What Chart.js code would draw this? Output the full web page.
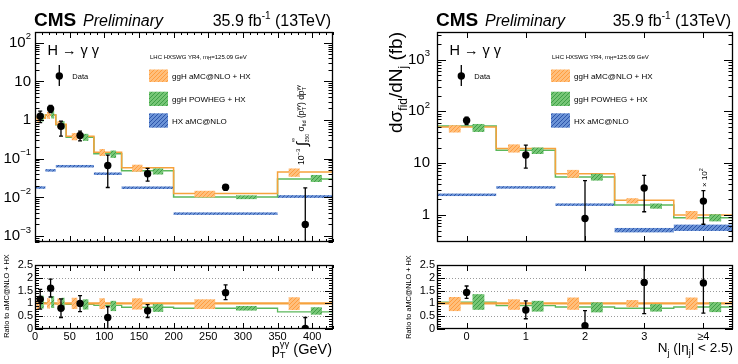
<!DOCTYPE html>
<html>
<head>
<meta charset="utf-8">
<script src="https://cdn.jsdelivr.net/npm/chart.js@4.4.1/dist/chart.umd.min.js"></script>
<style>
  body { margin: 0; background: #fff; }
  #page { position: relative; width: 738px; height: 364px; overflow: hidden; background: #fff; }
  #page canvas { position: absolute; }
</style>
</head>
<body>
<div id="page">
  <canvas id="ptMain" width="370" height="250" style="left:0;top:0"></canvas>
  <canvas id="ptRatio" width="370" height="114" style="left:0;top:250px"></canvas>
  <canvas id="njMain" width="368" height="250" style="left:370px;top:0"></canvas>
  <canvas id="njRatio" width="368" height="114" style="left:370px;top:250px"></canvas>
</div>
<script>
// ---- pT(gg) distribution ----
const ptEdges = [0, 15, 30, 45, 85, 125, 200, 350, 430];
const ptTicks = [0, 50, 100, 150, 200, 250, 300, 350, 400];
const ptYTicks = [1e2, 10, 1, 1e-1, 1e-2, 1e-3];
const ptData     = [1.25, 1.96, 0.69, 0.40, 0.067, 0.041, 0.0183, 0.0020];
const ptDataUp   = [1.70, 2.40, 0.94, 0.52, 0.124, 0.056, 0.0210, 0.0177];
const ptDataDown = [0.86, 1.55, 0.385, 0.29, 0.018, 0.0263, 0.0151, 0.0001];
const ptAmc      = [1.12, 1.35, 0.78, 0.38, 0.148, 0.058, 0.0125, 0.045];
const ptAmcLo    = [0.90, 1.08, 0.62, 0.30, 0.118, 0.046, 0.0100, 0.034];
const ptAmcHi    = [1.36, 1.62, 0.94, 0.46, 0.178, 0.070, 0.0148, 0.056];
const ptPowheg   = [1.14, 1.35, 0.76, 0.36, 0.135, 0.049, 0.0102, 0.030];
const ptPowhegLo = [0.92, 1.10, 0.58, 0.29, 0.105, 0.039, 0.0090, 0.025];
const ptPowhegHi = [1.45, 1.72, 0.94, 0.44, 0.163, 0.056, 0.0113, 0.038];
const ptHxLo     = [0.0170, 0.047, 0.061, 0.061, 0.039, 0.0170, 0.0036, 0.0097];
const ptHxHi     = [0.0190, 0.053, 0.067, 0.067, 0.043, 0.0186, 0.0040, 0.0114];
const ptRatioData   = [1.16, 1.59, 0.81, 1.00, 0.45, 0.71, 1.42, 0.02];
const ptRatioUp     = [1.55, 1.95, 1.18, 1.30, 0.87, 0.95, 1.72, 0.45];
const ptRatioDown   = [0.78, 1.25, 0.45, 0.68, 0.00, 0.45, 1.15, 0.00];
const ptRatioAmcLo  = [0.78, 0.80, 0.80, 0.78, 0.78, 0.76, 0.78, 0.74];
const ptRatioAmcHi  = [1.22, 1.20, 1.20, 1.22, 1.20, 1.20, 1.16, 1.24];
const ptRatioPowheg   = [1.02, 1.00, 0.98, 0.96, 0.92, 0.85, 0.81, 0.67];
const ptRatioPowhegLo = [0.80, 0.82, 0.75, 0.76, 0.70, 0.67, 0.72, 0.56];
const ptRatioPowhegHi = [1.30, 1.28, 1.22, 1.16, 1.10, 0.97, 0.90, 0.85];

// ---- jet multiplicity ----
const njLabels = ['0', '1', '2', '3', '\u22654'];
const njEdges = [-0.5, 0.5, 1.5, 2.5, 3.5, 4.5];
const njTicks = [0, 1, 2, 3, 4];
const njYTicks = [1e3, 1e2, 10, 1];
const njData     = [66.7, 14.3, 0.85, 3.3, 1.85];
const njDataUp   = [77.6, 22.2, 4.6, 5.8, 2.95];
const njDataDown = [55.5, 8.0, 0.1, 1.15, 0.66];
const njAmc      = [50, 19.2, 6.2, 1.93, 1.0];
const njAmcLo    = [39, 16, 5.2, 1.66, 0.82];
const njAmcHi    = [54, 23, 7.4, 2.1, 1.19];
const njPowheg   = [52, 17.8, 5.4, 1.55, 0.88];
const njPowhegLo = [40, 15, 4.6, 1.32, 0.75];
const njPowhegHi = [57, 20, 6.2, 1.66, 1.03];
const njHxLo     = [2.32, 3.25, 1.50, 0.46, 0.49];
const njHxHi     = [2.58, 3.55, 1.66, 0.56, 0.65];
const njRatioData   = [1.43, 0.74, 0.13, 1.82, 1.80];
const njRatioUp     = [1.68, 1.10, 0.72, 3.0, 3.0];
const njRatioDown   = [1.20, 0.40, 0.00, 0.60, 0.62];
const njRatioAmcLo  = [0.70, 0.75, 0.75, 0.85, 0.75];
const njRatioAmcHi  = [1.25, 1.16, 1.23, 1.13, 1.23];
const njRatioPowheg   = [1.05, 0.91, 0.86, 0.81, 0.86];
const njRatioPowhegLo = [0.75, 0.68, 0.65, 0.68, 0.66];
const njRatioPowhegHi = [1.36, 1.10, 1.04, 0.97, 1.05];

const ratioTicks = [0, 0.5, 1, 1.5, 2, 2.5];
const ratioGrid = [0.5, 1, 1.5, 2];
const seriesNames = ['Data', 'ggH aMC@NLO + HX', 'ggH POWHEG + HX', 'HX aMC@NLO'];

const FAMILY = '"Liberation Sans", Arial, Helvetica, sans-serif';
const ORANGE = '#f6a23c';
const GREEN = '#5cb85c';
const BOX_SHIFT = 0.2, BOX_HALF = 0.1;

const R = (t, s, dy, st, keep) => ({ t: t, s: s, dy: dy || 0, st: st || '', keep: !!keep });

// draw a run of text pieces (sub/superscripts), optionally rotated
function rich(ctx, x, y, runs, opt) {
  opt = opt || {};
  ctx.save();
  ctx.translate(x, y);
  if (opt.rot) ctx.rotate(opt.rot);
  ctx.textBaseline = opt.baseline || 'alphabetic';
  ctx.textAlign = 'left';
  ctx.fillStyle = '#000';
  let w = 0;
  runs.forEach(r => {
    ctx.font = r.st + ' ' + r.s + 'px ' + FAMILY;
    if (!r.keep) w += ctx.measureText(r.t).width;
  });
  let cx = opt.align === 'right' ? -w : opt.align === 'center' ? -w / 2 : 0;
  runs.forEach(r => {
    ctx.font = r.st + ' ' + r.s + 'px ' + FAMILY;
    ctx.fillText(r.t, cx, r.dy);
    if (!r.keep) cx += ctx.measureText(r.t).width;
  });
  ctx.restore();
}

function hatch(ctx, bg, fg) {
  const t = document.createElement('canvas');
  t.width = 4; t.height = 4;
  const g = t.getContext('2d');
  g.fillStyle = bg; g.fillRect(0, 0, 4, 4);
  g.strokeStyle = fg; g.lineWidth = 1;
  g.beginPath();
  g.moveTo(0, 4); g.lineTo(4, 0);
  g.moveTo(-1, 1); g.lineTo(1, -1);
  g.moveTo(3, 5); g.lineTo(5, 3);
  g.stroke();
  return ctx.createPattern(t, 'repeat');
}

function pats(ctx) {
  if (!ctx._pats) {
    ctx._pats = {
      amc: hatch(ctx, '#ffbf7c', '#ff9d3f'),
      pow: hatch(ctx, '#76c676', '#3f9f47'),
      hx: hatch(ctx, '#6a92d6', '#2d55aa')
    };
  }
  return ctx._pats;
}

function stepPoints(edges, vals) {
  return edges.map((e, i) => ({ x: e, y: vals[Math.min(i, vals.length - 1)] }));
}
function centers(edges) {
  return edges.slice(1).map((e, i) => (edges[i] + e) / 2);
}

function drawBoxes(chart, c, lo, hi, side, pat) {
  const { ctx, scales: { x, y } } = chart;
  ctx.fillStyle = pat;
  for (let i = 0; i < lo.length; i++) {
    const w = c.edges[i + 1] - c.edges[i];
    const mid = (c.edges[i] + c.edges[i + 1]) / 2 + side * BOX_SHIFT * w;
    let x0 = x.getPixelForValue(mid - BOX_HALF * w), x1 = x.getPixelForValue(mid + BOX_HALF * w);
    if (x1 - x0 < 3) { const m = (x0 + x1) / 2; x0 = m - 1.5; x1 = m + 1.5; }
    const y0 = y.getPixelForValue(hi[i]), y1 = y.getPixelForValue(lo[i]);
    ctx.fillRect(x0, y0, x1 - x0, Math.max(y1 - y0, 2));
  }
}

function drawBands(chart, c, lo, hi, pat) {
  const { ctx, scales: { x, y } } = chart;
  ctx.fillStyle = pat;
  for (let i = 0; i < lo.length; i++) {
    const x0 = x.getPixelForValue(c.edges[i]), x1 = x.getPixelForValue(c.edges[i + 1]);
    const y0 = y.getPixelForValue(hi[i]), y1 = y.getPixelForValue(lo[i]);
    const h = Math.max(y1 - y0, 2.5);
    ctx.fillRect(x0, (y0 + y1) / 2 - h / 2, x1 - x0, h);
  }
}

function errorBars(chart, c) {
  const { ctx, scales: { x, y } } = chart;
  ctx.strokeStyle = '#000'; ctx.lineWidth = 1.3;
  ctx.beginPath();
  centers(c.edges).forEach((cx, i) => {
    const px = x.getPixelForValue(cx);
    const yu = y.getPixelForValue(c.up[i]), yd = y.getPixelForValue(c.down[i]);
    ctx.moveTo(px, yu); ctx.lineTo(px, yd);
    ctx.moveTo(px - 2, yu); ctx.lineTo(px + 2, yu);
    ctx.moveTo(px - 2, yd); ctx.lineTo(px + 2, yd);
  });
  ctx.stroke();
}

function frameTicks(chart, c) {
  const { ctx, chartArea: a, scales: { x, y } } = chart;
  ctx.save();
  ctx.strokeStyle = '#000';
  ctx.lineWidth = 1;
  ctx.beginPath();
  const vt = (v, len) => {
    const p = Math.round(y.getPixelForValue(v)) + 0.5;
    ctx.moveTo(a.left, p); ctx.lineTo(a.left + len, p);
    ctx.moveTo(a.right, p); ctx.lineTo(a.right - len, p);
  };
  const ht = (v, len) => {
    const p = Math.round(x.getPixelForValue(v)) + 0.5;
    ctx.moveTo(p, a.bottom); ctx.lineTo(p, a.bottom - len);
    ctx.moveTo(p, a.top); ctx.lineTo(p, a.top + len);
  };
  if (c.logY) {
    for (let d = Math.floor(Math.log10(c.yMin)); d <= Math.ceil(Math.log10(c.yMax)); d++) {
      for (let m = 1; m < 10; m++) {
        const v = m * Math.pow(10, d);
        if (v >= c.yMin && v <= c.yMax) vt(v, m === 1 ? 9 : 4.5);
      }
    }
  } else {
    for (let k = 0; k <= 25; k++) vt(k / 10, k % 5 === 0 ? 8 : 4);
  }
  c.xTicks.forEach(v => ht(v, 6));
  if (c.xMinor) {
    for (let v = c.xMin; v <= c.xMax; v += c.xMinor) {
      if (!c.xTicks.includes(v)) ht(v, 3);
    }
  }
  ctx.stroke();
  ctx.lineWidth = 1.3;
  ctx.strokeRect(a.left + 0.5, a.top + 0.5, a.right - a.left - 1, a.bottom - a.top - 1);
  ctx.restore();
}

function panelPlugin(c) {
  return {
    id: 'panel_' + c.id,
    beforeDatasetsDraw(chart) {
      const { ctx, chartArea: a, scales: { y } } = chart;
      const p = pats(ctx);
      ctx.save();
      ctx.beginPath(); ctx.rect(a.left, a.top, a.right - a.left, a.bottom - a.top); ctx.clip();
      if (c.grid) {
        ctx.strokeStyle = '#9a9a9a'; ctx.lineWidth = 1; ctx.setLineDash([1, 2]);
        ctx.beginPath();
        c.grid.forEach(v => {
          const py = Math.round(y.getPixelForValue(v)) + 0.5;
          ctx.moveTo(a.left, py); ctx.lineTo(a.right, py);
        });
        ctx.stroke();
        ctx.setLineDash([]);
      }
      if (c.hxLo) drawBands(chart, c, c.hxLo, c.hxHi, p.hx);
      ctx.restore();
    },
    // lines are drawn first; boxes and error bars go on top of them, markers last
    beforeDatasetDraw(chart, args) {
      if (args.index !== 0) return;
      const { ctx, chartArea: a } = chart;
      const p = pats(ctx);
      ctx.save();
      ctx.beginPath(); ctx.rect(a.left, a.top, a.right - a.left, a.bottom - a.top); ctx.clip();
      drawBoxes(chart, c, c.amcLo, c.amcHi, -1, p.amc);
      drawBoxes(chart, c, c.powLo, c.powHi, 1, p.pow);
      errorBars(chart, c);
      ctx.restore();
    },
    afterDraw(chart) {
      frameTicks(chart, c);
      if (c.yLabels) {
        const { ctx, chartArea: a, scales: { y } } = chart;
        c.yLabels.forEach(v => {
          const e = Math.round(Math.log10(v));
          const runs = e === 0 ? [R('1', 15)] : e === 1 ? [R('10', 15)]
            : [R('10', 15), R(String(e).replace('-', '\u2212'), 9.5, -6)];
          rich(ctx, a.left - c.labelGap, y.getPixelForValue(v), runs, { align: 'right', baseline: 'middle' });
        });
      }
      if (c.decorate) c.decorate(chart);
    }
  };
}

function mainDecor(chart) {
  const { ctx, chartArea: a } = chart;
  const p = pats(ctx);
  rich(ctx, a.left - 1, 25.5, [R('CMS', 19, 0, 'bold')]);
  rich(ctx, a.left + 48, 25.5, [R('Preliminary', 16, 0, 'italic')]);
  rich(ctx, a.right - 2, 25.5, [R('35.9 fb', 16), R('-1', 10, -7), R(' (13TeV)', 16)], { align: 'right' });
  rich(ctx, a.left + 12.5, 55, [R('H \u2192 \u03b3 \u03b3', 14.5)]);
  rich(ctx, a.left + 115, 58.5, [R('LHC HXSWG YR4, m', 6), R('H', 4.5, 1.5), R('=125.09 GeV', 6)]);
  const lx = a.left + 114;
  [[69.5, 82, p.amc, 1], [91.7, 106, p.pow, 2], [113.3, 127.7, p.hx, 3]].forEach(e => {
    ctx.fillStyle = e[2];
    ctx.fillRect(lx, e[0], 19, e[1] - e[0]);
    rich(ctx, lx + 23, (e[0] + e[1]) / 2 + 3, [R(seriesNames[e[3]], 8)]);
  });
  const dx = a.left + 24.3;
  ctx.save();
  ctx.strokeStyle = '#000'; ctx.lineWidth = 1.3;
  ctx.beginPath(); ctx.moveTo(dx, 65); ctx.lineTo(dx, 86); ctx.stroke();
  ctx.fillStyle = '#000';
  ctx.beginPath(); ctx.arc(dx, 76, 3.7, 0, Math.PI * 2); ctx.fill();
  ctx.restore();
  rich(ctx, dx + 13, 79, [R(seriesNames[0], 7.5)]);
}

function mainChart(c) {
  new Chart(document.getElementById(c.id), {
    type: 'scatter',
    data: {
      datasets: [
        { data: centers(c.edges).map((x, i) => ({ x: x, y: c.data[i] })), pointRadius: 3.7, backgroundColor: '#000', borderWidth: 0 },
        { data: stepPoints(c.edges, c.amc), showLine: true, stepped: 'before', borderColor: ORANGE, borderWidth: 1.5, pointRadius: 0 },
        { data: stepPoints(c.edges, c.pow), showLine: true, stepped: 'before', borderColor: GREEN, borderWidth: 1.5, pointRadius: 0 }
      ]
    },
    options: {
      responsive: false,
      animation: false,
      events: [],
      layout: { padding: { left: c.area.l, top: c.area.t, right: c.W - c.area.r, bottom: c.H - c.area.b } },
      plugins: { legend: { display: false }, tooltip: { enabled: false } },
      scales: {
        x: { type: 'linear', display: false, min: c.xMin, max: c.xMax },
        y: { type: 'logarithmic', display: false, min: c.yMin, max: c.yMax }
      }
    },
    plugins: [panelPlugin(c)]
  });
}

function ratioChart(c) {
  const tickFont = { family: FAMILY, size: 11 };
  new Chart(document.getElementById(c.id), {
    type: 'scatter',
    data: {
      datasets: [
        { data: centers(c.edges).map((x, i) => ({ x: x, y: c.data[i] })), pointRadius: 3.7, backgroundColor: '#000', borderWidth: 0 },
        { data: [{ x: c.xMin, y: 1 }, { x: c.xMax, y: 1 }], showLine: true, borderColor: ORANGE, borderWidth: 2.2, pointRadius: 0 },
        { data: stepPoints(c.edges, c.pow), showLine: true, stepped: 'before', borderColor: GREEN, borderWidth: 1.3, pointRadius: 0 }
      ]
    },
    options: {
      responsive: false,
      animation: false,
      events: [],
      layout: { padding: { left: 0, top: c.area.t, right: c.W - c.area.r, bottom: 0 } },
      plugins: { legend: { display: false }, tooltip: { enabled: false } },
      scales: {
        x: {
          type: 'linear', min: c.xMin, max: c.xMax,
          grid: { display: false, drawTicks: false }, border: { display: false },
          afterBuildTicks: s => { s.ticks = c.xTicks.map(v => ({ value: v })); },
          ticks: { autoSkip: false, maxRotation: 0, padding: 1, color: '#000', font: tickFont,
            callback: (v, i) => c.xLabels ? c.xLabels[i] : String(v) },
          afterFit: s => { s.height = c.H - c.area.b; }
        },
        y: {
          type: 'linear', min: c.yMin, max: c.yMax,
          grid: { display: false, drawTicks: false }, border: { display: false },
          afterBuildTicks: s => { s.ticks = ratioTicks.map(v => ({ value: v })); },
          ticks: { autoSkip: false, padding: 2, color: '#000', font: tickFont, callback: v => String(v) },
          afterFit: s => { s.width = c.area.l; }
        }
      }
    },
    plugins: [panelPlugin(c)]
  });
}

mainChart({
  id: 'ptMain', W: 370, H: 250, area: { l: 35, t: 32, r: 333, b: 242 },
  edges: ptEdges, xMin: 0, xMax: 430, xTicks: ptTicks, xMinor: 10,
  logY: true, yMin: 7e-4, yMax: 190, yLabels: ptYTicks, labelGap: 4,
  data: ptData, up: ptDataUp, down: ptDataDown,
  amc: ptAmc, amcLo: ptAmcLo, amcHi: ptAmcHi,
  pow: ptPowheg, powLo: ptPowhegLo, powHi: ptPowhegHi,
  hxLo: ptHxLo, hxHi: ptHxHi,
  decorate: chart => {
    mainDecor(chart);
    rich(chart.ctx, 303.5, 165, [
      R('10', 8.5), R('\u22123', 6, -4), R(' ', 8.5), R('\u222b', 15, 3),
      R('\u221e', 6, -9, '', true), R('350', 5, 5), R(' \u03c3', 8.5), R('fid', 5.5, 2),
      R(' (p', 8.5), R('T', 5.5, 2, '', true), R('\u03b3\u03b3', 5.5, -4), R(') dp', 8.5),
      R('T', 5.5, 2, '', true), R('\u03b3\u03b3', 5.5, -4)
    ], { rot: -Math.PI / 2 });
  }
});

ratioChart({
  id: 'ptRatio', W: 370, H: 114, area: { l: 35, t: 15, r: 333, b: 79 },
  edges: ptEdges, xMin: 0, xMax: 430, xTicks: ptTicks, xMinor: 10,
  logY: false, yMin: 0, yMax: 2.5, grid: ratioGrid,
  data: ptRatioData, up: ptRatioUp, down: ptRatioDown,
  amcLo: ptRatioAmcLo, amcHi: ptRatioAmcHi,
  pow: ptRatioPowheg, powLo: ptRatioPowhegLo, powHi: ptRatioPowhegHi,
  decorate: chart => {
    const ctx = chart.ctx;
    rich(ctx, 9.3, 46, [R('Ratio to aMC@NLO + HX', 7.3)], { rot: -Math.PI / 2, align: 'center' });
    rich(ctx, 332, 103.5, [R('p', 14.5), R('T', 9.5, 4, '', true), R('\u03b3\u03b3', 9.5, -7), R(' (GeV)', 14.5)], { align: 'right' });
  }
});

mainChart({
  id: 'njMain', W: 368, H: 250, area: { l: 67, t: 32, r: 363, b: 242 },
  edges: njEdges, xMin: -0.5, xMax: 4.5, xTicks: njTicks, xMinor: null,
  logY: true, yMin: 0.34, yMax: 3400, yLabels: njYTicks, labelGap: 7,
  data: njData, up: njDataUp, down: njDataDown,
  amc: njAmc, amcLo: njAmcLo, amcHi: njAmcHi,
  pow: njPowheg, powLo: njPowhegLo, powHi: njPowhegHi,
  hxLo: njHxLo, hxHi: njHxHi,
  decorate: chart => {
    mainDecor(chart);
    const ctx = chart.ctx;
    rich(ctx, 31.5, 82.5, [R('d\u03c3', 19), R('fid', 12, 5), R('/dN', 19), R('j', 12, 5), R(' (fb)', 19)],
      { rot: -Math.PI / 2, align: 'center' });
    rich(ctx, 336.5, 187, [R('\u00d7 10', 8), R('2', 5.5, -3.5)], { rot: -Math.PI / 2 });
  }
});

ratioChart({
  id: 'njRatio', W: 368, H: 114, area: { l: 67, t: 15, r: 363, b: 79 },
  edges: njEdges, xMin: -0.5, xMax: 4.5, xTicks: njTicks, xLabels: njLabels, xMinor: null,
  logY: false, yMin: 0, yMax: 2.5, grid: ratioGrid,
  data: njRatioData, up: njRatioUp, down: njRatioDown,
  amcLo: njRatioAmcLo, amcHi: njRatioAmcHi,
  pow: njRatioPowheg, powLo: njRatioPowhegLo, powHi: njRatioPowhegHi,
  decorate: chart => {
    const ctx = chart.ctx;
    rich(ctx, 40.5, 47, [R('Ratio to aMC@NLO + HX', 7.3)], { rot: -Math.PI / 2, align: 'center' });
    rich(ctx, 363, 101.5, [R('N', 13.5), R('j', 9, 4), R(' (|\u03b7', 13.5), R('j', 9, 4), R('| < 2.5)', 13.5)], { align: 'right' });
  }
});
</script>
</body>
</html>
